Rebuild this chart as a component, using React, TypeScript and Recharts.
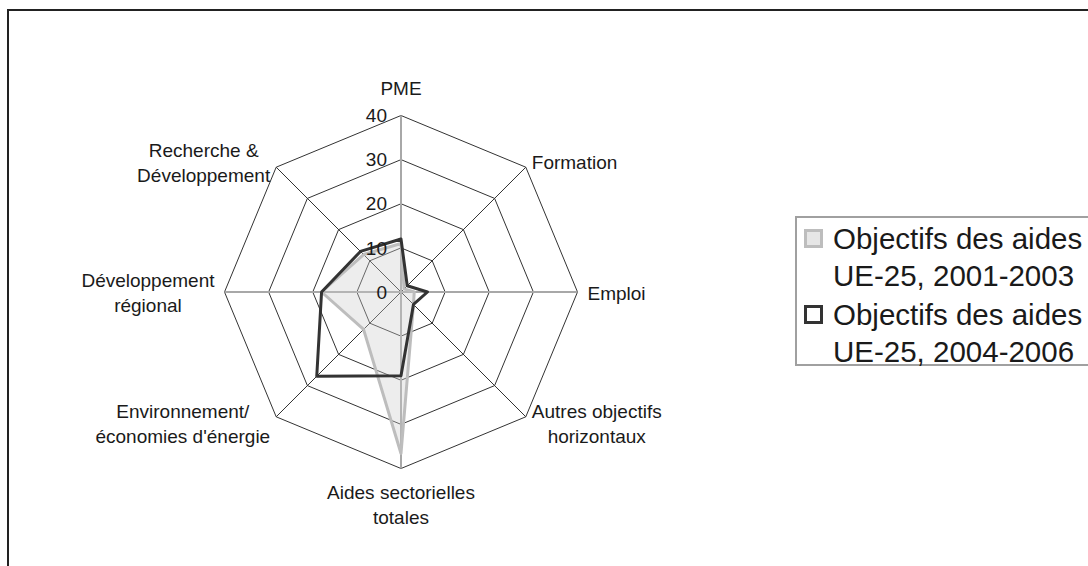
import React from "react";
import {
  Legend,
  PolarAngleAxis,
  PolarGrid,
  PolarRadiusAxis,
  Radar,
  RadarChart,
} from "recharts";

const categories = [
  "PME",
  "Formation",
  "Emploi",
  "Autres objectifs\nhorizontaux",
  "Aides sectorielles\ntotales",
  "Environnement/\néconomies d'énergie",
  "Développement\nrégional",
  "Recherche &\nDéveloppement",
];
const aides2001 = [11, 1, 3, 4, 36.6, 12, 18, 12];
const aides2004 = [12, 2, 6, 4, 19, 27, 18, 13];
const radiusTicks = [0, 10, 20, 30, 40];
const seriesNames = [
  "Objectifs des aides UE-25, 2001-2003",
  "Objectifs des aides UE-25, 2004-2006",
];

const FONT = '"Liberation Sans", Arial, sans-serif';
const CX = 401;
const CY = 292;
const R = 176.5;
const FS = 19;
const LH = 25;

const data = categories.map((category, i) => ({
  category,
  a2001: aides2001[i],
  a2004: aides2004[i],
}));

let ctx: CanvasRenderingContext2D | null = null;
function measure(text: string) {
  if (!ctx) ctx = document.createElement("canvas").getContext("2d");
  if (!ctx) return text.length * FS * 0.5;
  ctx.font = `${FS}px ${FONT}`;
  return ctx.measureText(text).width;
}

function AngleTick(props: any) {
  const { x, y, payload } = props;
  const dx = x - CX;
  const dy = y - CY;
  const len = Math.hypot(dx, dy) || 1;
  const ux = dx / len;
  const uy = dy / len;
  const vx = CX + ux * R;
  const vy = CY + uy * R;
  const lines = String(payload.value).split("\n");
  const blockW = Math.max(...lines.map(measure));
  const side = Math.abs(uy) < 0.3 ? 10 : 6;
  let centerX = vx;
  if (ux > 0.3) centerX = vx + side + blockW / 2;
  else if (ux < -0.3) centerX = vx - side - blockW / 2;
  const n = lines.length;
  let first: number;
  if (Math.abs(ux) <= 0.3 && uy < 0) first = vy - 21 - (n - 1) * LH;
  else if (Math.abs(ux) <= 0.3 && uy > 0) first = vy + 30;
  else first = vy + uy * 8 + 1 - ((n - 1) * LH) / 2 + 0.35 * FS;
  return (
    <text textAnchor="middle" fontSize={FS} fontFamily={FONT} fill="#1a1a1a">
      {lines.map((l, i) => (
        <tspan key={i} x={centerX} y={first + i * LH}>
          {l}
        </tspan>
      ))}
    </text>
  );
}

function RadiusTick(props: any) {
  const { y, payload } = props;
  return (
    <text
      x={CX - 14}
      y={y + 0.35 * FS}
      textAnchor="end"
      fontSize={FS}
      fontFamily={FONT}
      fill="#1a1a1a"
    >
      {payload.value}
    </text>
  );
}

function LegendBox() {
  const items = [
    { name: seriesNames[0], border: "#bdbdbd", fill: "#e6e6e6" },
    { name: seriesNames[1], border: "#333", fill: "#fff" },
  ];
  return (
    <div
      style={{
        border: "2px solid #a0a0a0",
        width: 330,
        height: 150,
        boxSizing: "border-box",
        paddingTop: 2,
        fontFamily: FONT,
        fontSize: 29.5,
        lineHeight: "37px",
        color: "#1a1a1a",
        background: "#fff",
      }}
    >
      {items.map(it => (
        <div key={it.name} style={{ display: "flex", alignItems: "flex-start", marginBottom: 2 }}>
          <div
            style={{
              width: 19,
              height: 19,
              boxSizing: "border-box",
              border: `3px solid ${it.border}`,
              background: it.fill,
              marginLeft: 7,
              marginTop: 9,
              marginRight: 10,
              flexShrink: 0,
            }}
          />
          <div style={{ width: 275 }}>{it.name}</div>
        </div>
      ))}
    </div>
  );
}

export default function App() {
  return (
    <div
      style={{
        position: "absolute",
        left: 0,
        top: 0,
        width: 1088,
        height: 566,
        overflow: "hidden",
        background: "#fff",
      }}
    >
      <div
        style={{
          position: "absolute",
          left: 7,
          top: 9,
          width: 1200,
          height: 700,
          border: "2px solid #222",
        }}
      />
      <div style={{ position: "absolute", left: 0, top: 0 }}>
        <RadarChart width={1088} height={566} data={data} cx={CX} cy={CY} outerRadius={R}>
          <PolarGrid gridType="polygon" stroke="#333" strokeWidth={1} radialLines={false} />
          <PolarGrid
            gridType="polygon"
            polarRadius={[]}
            polarAngles={[45, -45, -135, 135]}
            stroke="#333"
            strokeWidth={1}
          />
          <PolarGrid
            gridType="polygon"
            polarRadius={[]}
            polarAngles={[90, 0, -90, 180]}
            stroke="#a8a8a8"
            strokeWidth={2}
          />
          <PolarAngleAxis
            dataKey="category"
            tick={<AngleTick />}
            axisLine={false}
            tickLine={false}
          />
          <PolarRadiusAxis
            angle={90}
            domain={[0, 40]}
            ticks={radiusTicks as any}
            tickCount={5}
            axisLine={false}
            tickLine={false}
            tick={<RadiusTick />}
          />
          <Radar
            name={seriesNames[0]}
            dataKey="a2001"
            stroke="#bdbdbd"
            strokeWidth={3}
            strokeLinejoin="round"
            fill="#cccccc"
            fillOpacity={0.35}
            dot={false}
            isAnimationActive={false}
          />
          <Radar
            name={seriesNames[1]}
            dataKey="a2004"
            stroke="#333"
            strokeWidth={3}
            strokeLinejoin="round"
            fill="none"
            fillOpacity={0}
            dot={false}
            isAnimationActive={false}
          />
          <Legend
            align="left"
            verticalAlign="top"
            content={() => <LegendBox />}
            wrapperStyle={{ left: 795, top: 216, width: 330 }}
          />
        </RadarChart>
      </div>
    </div>
  );
}
